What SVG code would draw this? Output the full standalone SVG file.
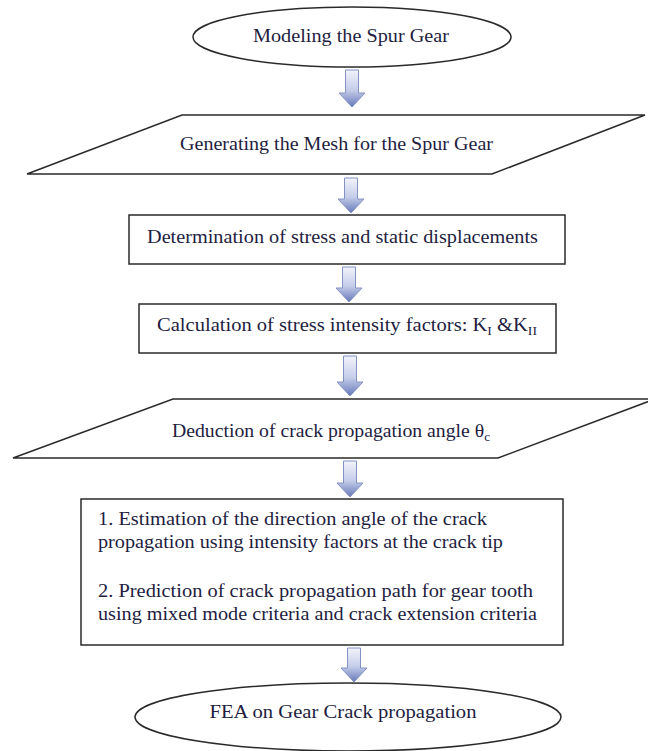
<svg xmlns="http://www.w3.org/2000/svg" width="648" height="751" viewBox="0 0 648 751">
<defs>
<linearGradient id="ag" x1="0" y1="0" x2="0" y2="1">
<stop offset="0" stop-color="#f2f4fb"/>
<stop offset="0.55" stop-color="#c4cce9"/>
<stop offset="1" stop-color="#6577b8"/>
</linearGradient>
<style>
.shape{fill:#fff;stroke:#2a2a2a;stroke-width:1.5}
.t{font-family:"Liberation Serif","Times New Roman",serif;font-size:18px;fill:#231d3f}
.arrow{fill:url(#ag);stroke:#8592c4;stroke-width:1}
</style>
</defs>
<rect width="648" height="751" fill="#fff"/>
<g id="connectors">
<path class="arrow" d="M345.5,70 H358.5 V93 H365 L352,107 L339,93 H345.5 Z"/>
<path class="arrow" d="M344.5,178 H357.5 V199 H364 L351,213 L338,199 H344.5 Z"/>
<path class="arrow" d="M342.5,267 H355.5 V288 H362 L349,302 L336,288 H342.5 Z"/>
<path class="arrow" d="M343.5,356 H356.5 V382 H363 L350,396 L337,382 H343.5 Z"/>
<path class="arrow" d="M343.5,461 H356.5 V483 H363 L350,497 L337,483 H343.5 Z"/>
<path class="arrow" d="M347.5,648 H360.5 V668 H367 L354,682 L341,668 H347.5 Z"/>
</g>
<g id="n1">
<ellipse class="shape" cx="352" cy="37" rx="159" ry="30"/>
<text class="t" x="351" y="42" text-anchor="middle" textLength="196" lengthAdjust="spacingAndGlyphs">Modeling the Spur Gear</text>
</g>
<g id="n2">
<polygon class="shape" points="182,115 645,115 492,174 27,174"/>
<text class="t" x="180" y="150" textLength="313" lengthAdjust="spacingAndGlyphs">Generating the Mesh for the Spur Gear</text>
</g>
<g id="n3">
<rect class="shape" x="129" y="215" width="436" height="49"/>
<text class="t" x="147" y="243" textLength="391" lengthAdjust="spacingAndGlyphs">Determination of stress and static displacements</text>
</g>
<g id="n4">
<rect class="shape" x="139" y="304" width="417" height="49"/>
<text class="t" x="157" y="331" textLength="380" lengthAdjust="spacingAndGlyphs">Calculation of stress intensity factors:  K<tspan font-size="12" dy="4">I</tspan><tspan dy="-4"> &amp;K</tspan><tspan font-size="12" dy="4">II</tspan></text>
</g>
<g id="n5">
<polygon class="shape" points="173,399 655,399 498,458 13,458"/>
<text class="t" x="172" y="437" textLength="318" lengthAdjust="spacingAndGlyphs">Deduction of crack propagation angle θ<tspan font-size="12" dy="4">c</tspan></text>
</g>
<g id="n6">
<rect class="shape" x="81" y="499" width="482" height="146"/>
<text class="t" x="98" y="525" textLength="389" lengthAdjust="spacingAndGlyphs">1. Estimation of the direction  angle of the crack</text>
<text class="t" x="98" y="548" textLength="405" lengthAdjust="spacingAndGlyphs">propagation using intensity  factors at the crack tip</text>
<text class="t" x="98" y="597" textLength="435" lengthAdjust="spacingAndGlyphs">2. Prediction  of crack propagation path for gear tooth</text>
<text class="t" x="98" y="620" textLength="439" lengthAdjust="spacingAndGlyphs">using mixed mode criteria  and crack extension criteria</text>
</g>
<g id="n7">
<ellipse class="shape" cx="348" cy="717" rx="213" ry="34"/>
<text class="t" x="343" y="718" text-anchor="middle" textLength="267" lengthAdjust="spacingAndGlyphs">FEA on Gear Crack propagation</text>
</g>
</svg>
